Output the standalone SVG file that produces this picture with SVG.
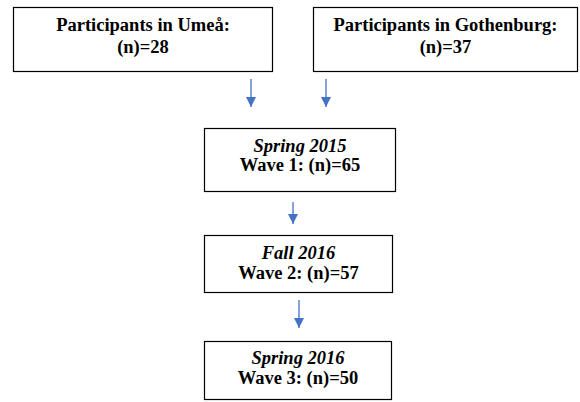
<svg xmlns="http://www.w3.org/2000/svg" width="580" height="402" viewBox="0 0 580 402">
<defs>
<style>
.box{fill:#fff;stroke:#000;stroke-width:1.2}
.t{font-family:'Liberation Serif','Times New Roman',Times,serif;font-size:18.5px;font-weight:bold;fill:#000;text-anchor:middle}
.i{font-style:italic}
.c{stroke:#4472C4;stroke-width:1.3;fill:none}
</style>
<marker id="ah" markerWidth="10" markerHeight="11" refX="10" refY="5" orient="auto" markerUnits="userSpaceOnUse" viewBox="0 0 10 10">
<path d="M0,0 L10,5 L0,10 Z" fill="#4472C4"/>
</marker>
</defs>
<rect width="580" height="402" fill="#fff"/>
<g id="umea">
<rect class="box" x="13.5" y="7.5" width="259" height="64"/>
<text class="t" x="143" y="31">Participants in Umeå:</text>
<text class="t" x="143" y="53">(n)=28</text>
</g>
<g id="gothenburg">
<rect class="box" x="313.5" y="7.5" width="264" height="64"/>
<text class="t" x="445.5" y="31">Participants in Gothenburg:</text>
<text class="t" x="445.5" y="53">(n)=37</text>
</g>
<g id="wave1">
<rect class="box" x="204.5" y="128.5" width="191" height="63"/>
<text class="t i" x="300" y="152">Spring 2015</text>
<text class="t" x="300" y="171">Wave 1: (n)=65</text>
</g>
<g id="wave2">
<rect class="box" x="204.5" y="235.5" width="188" height="57"/>
<text class="t i" x="298.5" y="259">Fall 2016</text>
<text class="t" x="298.5" y="279">Wave 2: (n)=57</text>
</g>
<g id="wave3">
<rect class="box" x="204.5" y="341.5" width="187" height="58"/>
<text class="t i" x="298" y="364">Spring 2016</text>
<text class="t" x="298" y="384">Wave 3: (n)=50</text>
</g>
<g id="connectors">
<line class="c" x1="251" y1="79" x2="251" y2="107" marker-end="url(#ah)"/>
<line class="c" x1="326" y1="79" x2="326" y2="107" marker-end="url(#ah)"/>
<line class="c" x1="293" y1="202" x2="293" y2="224" marker-end="url(#ah)"/>
<line class="c" x1="299" y1="300" x2="299" y2="328" marker-end="url(#ah)"/>
</g>
</svg>
